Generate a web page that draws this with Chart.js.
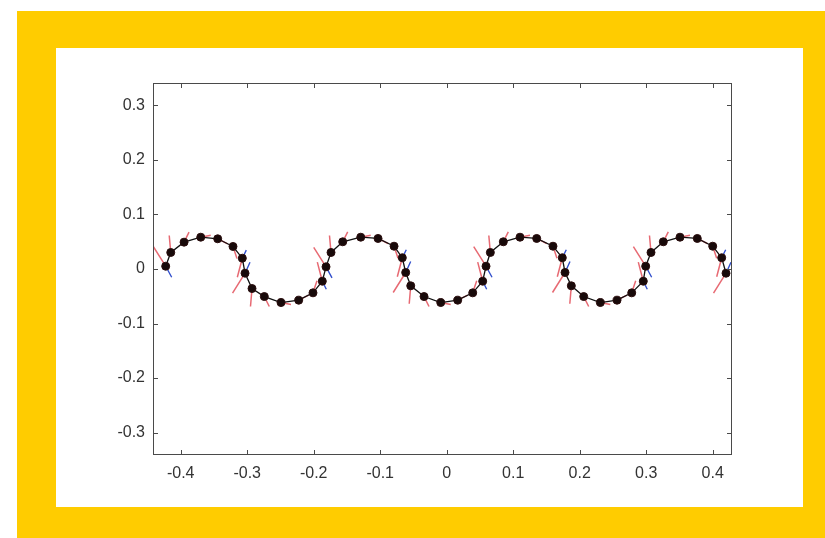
<!DOCTYPE html>
<html>
<head>
<meta charset="utf-8">
<script src="https://cdn.jsdelivr.net/npm/chart.js@4.4.1/dist/chart.umd.min.js"></script>
<style>
  html, body { margin: 0; padding: 0; background: #fff; }
  body { width: 825px; height: 538px; position: relative; overflow: hidden; }
  #frameBox { position: absolute; left: 17px; top: 11px; width: 808px; height: 527px; background: #FFCC00; }
  #paper { position: absolute; left: 39px; top: 37px; width: 747px; height: 459px; background: #fff; }
  canvas { display: block; }
</style>
</head>
<body>
<div id="frameBox">
  <div id="paper"><canvas id="wave" width="747" height="459"></canvas></div>
</div>
<script>
// marker positions along the curve
const xs = [-0.4226, -0.4150, -0.3950, -0.3699, -0.3444, -0.3214, -0.3074, -0.3033, -0.2928, -0.2743, -0.2492, -0.2226, -0.2011, -0.1871,
            -0.1815, -0.1740, -0.1564, -0.1293, -0.1033, -0.0792, -0.0668, -0.0617, -0.0541, -0.0341, -0.0090, 0.0165, 0.0391, 0.0541,
             0.0591, 0.0656, 0.0851, 0.1102, 0.1353, 0.1598, 0.1738, 0.1779, 0.1874, 0.2060, 0.2310, 0.2561, 0.2782, 0.2956,
             0.2992, 0.3072, 0.3257, 0.3508, 0.3768, 0.4000, 0.4135, 0.4200];
const ys = [0.0051, 0.0303, 0.0492, 0.0583, 0.0554, 0.0413, 0.0198, -0.0077, -0.0358, -0.0505, -0.0615, -0.0572, -0.0437, -0.0224,
            0.0040, 0.0303, 0.0499, 0.0583, 0.0560, 0.0418, 0.0206, -0.0064, -0.0308, -0.0505, -0.0615, -0.0572, -0.0437, -0.0224,
            0.0051, 0.0303, 0.0499, 0.0583, 0.0560, 0.0418, 0.0206, -0.0064, -0.0308, -0.0505, -0.0615, -0.0572, -0.0437, -0.0224,
            0.0051, 0.0303, 0.0499, 0.0583, 0.0560, 0.0418, 0.0206, -0.0077];

// red vectors (one per marker)
const redDx = [-0.0185, -0.0023, 0.0075, 0.0150, 0.0150, 0.0060, -0.0075, -0.0188, -0.0023, 0.0075, 0.0150, 0.0150, 0.0060, -0.0075,
               -0.0185, -0.0023, 0.0075, 0.0150, 0.0150, 0.0060, -0.0075, -0.0188, -0.0023, 0.0075, 0.0150, 0.0150, 0.0060, -0.0075,
               -0.0185, -0.0023, 0.0075, 0.0150, 0.0150, 0.0060, -0.0075, -0.0188, -0.0023, 0.0075, 0.0150, 0.0150, 0.0060, -0.0075,
               -0.0185, -0.0023, 0.0075, 0.0150, 0.0150, 0.0060, -0.0075, -0.0188];
const redDy = [0.0358, 0.0312, 0.0183, 0.0037, -0.0092, -0.0220, -0.0349, -0.0367, -0.0330, -0.0183, -0.0037, 0.0092, 0.0220, 0.0349,
               0.0358, 0.0312, 0.0183, 0.0037, -0.0092, -0.0220, -0.0349, -0.0367, -0.0330, -0.0183, -0.0037, 0.0092, 0.0220, 0.0349,
               0.0358, 0.0312, 0.0183, 0.0037, -0.0092, -0.0220, -0.0349, -0.0367, -0.0330, -0.0183, -0.0037, 0.0092, 0.0220, 0.0349,
               0.0358, 0.0312, 0.0183, 0.0037, -0.0092, -0.0220, -0.0349, -0.0367];

// blue vectors (only visible near the zero crossings)
const blueDx = [0.0090, 0, 0, 0, 0, 0, 0.0060, 0.0075, 0, 0, 0, 0, 0, 0.0060,
                0.0090, 0, 0, 0, 0, 0, 0.0060, 0.0075, 0, 0, 0, 0, 0, 0.0060,
                0.0090, 0, 0, 0, 0, 0, 0.0060, 0.0075, 0, 0, 0, 0, 0, 0.0060,
                0.0090, 0, 0, 0, 0, 0, 0.0060, 0.0075];
const blueDy = [-0.0202, 0, 0, 0, 0, 0, 0.0147, 0.0202, 0, 0, 0, 0, 0, -0.0147,
                -0.0202, 0, 0, 0, 0, 0, 0.0147, 0.0202, 0, 0, 0, 0, 0, -0.0147,
                -0.0202, 0, 0, 0, 0, 0, 0.0147, 0.0202, 0, 0, 0, 0, 0, -0.0147,
                -0.0202, 0, 0, 0, 0, 0, 0.0147, 0.0202];

const xTicks = [-0.4, -0.3, -0.2, -0.1, 0, 0.1, 0.2, 0.3, 0.4];
const xTickLabels = ['-0.4', '-0.3', '-0.2', '-0.1', '0', '0.1', '0.2', '0.3', '0.4'];
const yTicks = [-0.3, -0.2, -0.1, 0, 0.1, 0.2, 0.3];
const yTickLabels = ['-0.3', '-0.2', '-0.1', '0', '0.1', '0.2', '0.3'];

const xRange = [-0.4417, 0.4290];
const yRange = [-0.341, 0.341];

// each vector becomes a short segment, separated by a gap
function segments(dx, dy) {
    const out = [];
    xs.forEach((x, i) => {
        if (dx[i] === 0 && dy[i] === 0) return;
        out.push({x: x, y: ys[i]});
        out.push({x: x + dx[i], y: ys[i] + dy[i]});
        out.push({x: x, y: null});
    });
    return out;
}

// MATLAB style box with inward ticks
const boxPlugin = {
    id: 'boxPlugin',
    afterDatasetsDraw(chart) {
        const ctx = chart.ctx;
        const a = chart.chartArea;
        const sx = chart.scales.x;
        const sy = chart.scales.y;
        const len = 5;
        ctx.save();
        ctx.strokeStyle = '#4a4a4a';
        ctx.lineWidth = 1;
        ctx.strokeRect(Math.round(a.left) + 0.5, Math.round(a.top) + 0.5,
                       Math.round(a.right - a.left) - 1, Math.round(a.bottom - a.top) - 1);
        ctx.beginPath();
        sx.ticks.forEach(t => {
            const px = Math.round(sx.getPixelForValue(t.value)) + 0.5;
            ctx.moveTo(px, a.bottom); ctx.lineTo(px, a.bottom - len);
            ctx.moveTo(px, a.top); ctx.lineTo(px, a.top + len);
        });
        sy.ticks.forEach(t => {
            const py = Math.round(sy.getPixelForValue(t.value)) + 0.5;
            ctx.moveTo(a.left, py); ctx.lineTo(a.left + len, py);
            ctx.moveTo(a.right, py); ctx.lineTo(a.right - len, py);
        });
        ctx.stroke();
        ctx.restore();
    }
};

const tickFont = {family: "'Liberation Sans', Arial, sans-serif", size: 16};

new Chart(document.getElementById('wave').getContext('2d'), {
    type: 'scatter',
    data: {
        datasets: [
            {
                label: 'curve',
                data: xs.map((x, i) => ({x: x, y: ys[i]})),
                showLine: true,
                borderColor: '#111111',
                borderWidth: 1.3,
                pointRadius: 4,
                pointBackgroundColor: '#180a0a',
                pointBorderColor: '#2a0c0c',
                pointBorderWidth: 1
            },
            {
                label: 'blue',
                data: segments(blueDx, blueDy),
                showLine: true,
                spanGaps: false,
                borderColor: '#3350cc',
                borderWidth: 1.4,
                pointRadius: 0
            },
            {
                label: 'red',
                data: segments(redDx, redDy),
                showLine: true,
                spanGaps: false,
                borderColor: 'rgba(228, 90, 100, 0.9)',
                borderWidth: 1.5,
                pointRadius: 0
            }
        ]
    },
    options: {
        responsive: false,
        animation: false,
        events: [],
        layout: {padding: {left: 0, top: 35, right: 71, bottom: 0}},
        plugins: {legend: {display: false}, tooltip: {enabled: false}},
        scales: {
            x: {
                type: 'linear',
                min: xRange[0],
                max: xRange[1],
                afterBuildTicks: s => { s.ticks = xTicks.map(v => ({value: v})); },
                afterFit: s => { s.height = 52; },
                grid: {display: false, drawTicks: false},
                border: {display: false},
                ticks: {
                    padding: 9,
                    color: '#333333',
                    font: tickFont,
                    maxRotation: 0,
                    callback: (v, i) => xTickLabels[i]
                }
            },
            y: {
                type: 'linear',
                min: yRange[0],
                max: yRange[1],
                afterBuildTicks: s => { s.ticks = yTicks.map(v => ({value: v})); },
                afterFit: s => { s.width = 97; },
                grid: {display: false, drawTicks: false},
                border: {display: false},
                ticks: {
                    padding: 8,
                    color: '#333333',
                    font: tickFont,
                    callback: (v, i) => yTickLabels[i]
                }
            }
        }
    },
    plugins: [boxPlugin]
});
</script>
</body>
</html>
